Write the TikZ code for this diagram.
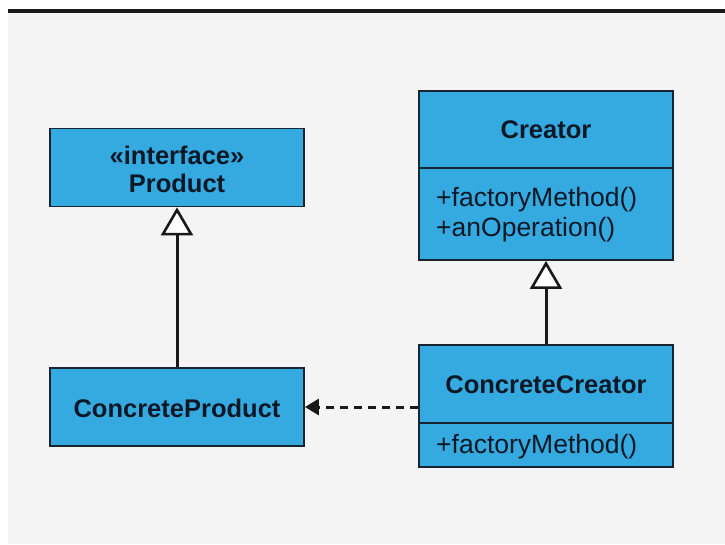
\documentclass[tikz,border=0pt]{standalone}
\usepackage{fontspec}
\setmainfont{Liberation Sans}
\usetikzlibrary{arrows.meta}
\definecolor{umlblue}{RGB}{53,170,224}
\definecolor{umlborder}{RGB}{24,36,48}
\definecolor{umltext}{RGB}{12,24,38}
\definecolor{bggray}{RGB}{244,244,244}
\tikzset{
  box/.style={draw=umlborder, line width=1.8pt, fill=umlblue, inner sep=0pt, minimum width=254pt},
  title/.style={text=umltext, font=\fontsize{25.5}{28}\selectfont\bfseries, align=center, inner sep=0pt},
  ops/.style={text=umltext, font=\fontsize{26.5}{30}\selectfont, align=left, inner sep=0pt, anchor=west},
  inherit/.style={line width=3pt, draw=black!90, -{Triangle[length=28pt, width=32pt, fill=white, line width=2.6pt]}},
  depend/.style={line width=3pt, draw=black!90, dash pattern=on 8pt off 6pt, -{Triangle[length=14pt, width=16pt]}}
}
\begin{document}
\begin{tikzpicture}[x=1pt, y=-1pt]
\useasboundingbox (0,0) rectangle (725,544);
\fill[white] (0,0) rectangle (725,544);
\fill[bggray] (8,12) rectangle (725,544);
\fill[black!90] (8,9) rectangle (725,12.5);
% Product
\node[box, minimum height=78pt] (product) at (177,167.5) {};
\node[title] (producttxt) at (177,169) {«interface»\\Product};
% ConcreteProduct
\node[box, minimum height=78pt] (cproduct) at (177,407) {};
\node[title] (cproducttxt) at (177,408) {ConcreteProduct};
% Creator
\node[box, minimum height=77pt] (creator) at (546,129.5) {};
\node[title] (creatortxt) at (546,130) {Creator};
\node[box, minimum height=92pt] (creatorops) at (546,214) {};
\node[ops] (creatoropstxt) at (436,215) {+factoryMethod()\\+anOperation()};
% ConcreteCreator
\node[box, minimum height=78pt] (ccreator) at (546,384) {};
\node[title] (ccreatortxt) at (546,385) {ConcreteCreator};
\node[box, minimum height=44pt] (ccreatorops) at (546,445) {};
\node[ops] (ccreatoropstxt) at (436,447) {+factoryMethod()};
% connectors
\draw[inherit] (cproduct.north) -- (product.south);
\draw[inherit] (ccreator.north) -- (creatorops.south);
\draw[depend] (ccreator.west |- cproduct.east) -- (cproduct.east);
\end{tikzpicture}
\end{document}
